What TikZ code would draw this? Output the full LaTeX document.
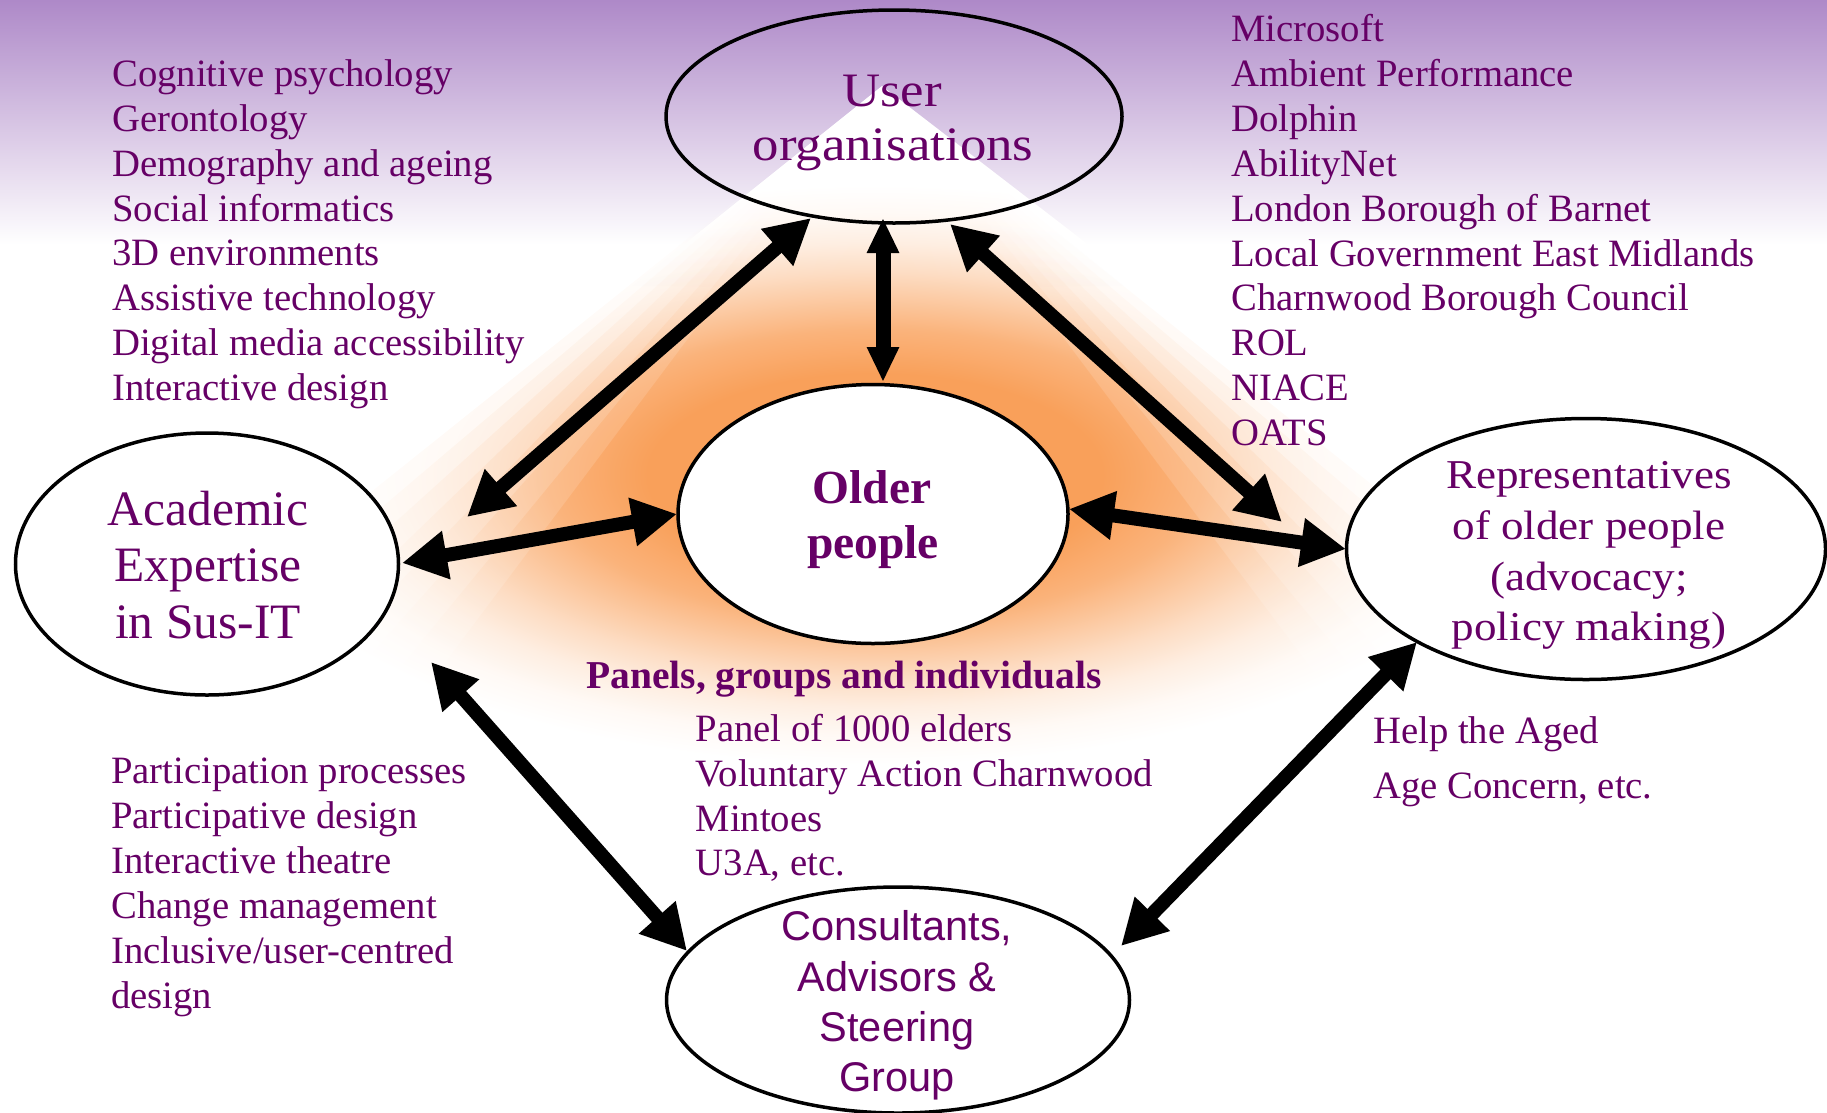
\documentclass[tikz,border=0pt]{standalone}
\usepackage{fontspec}
\setmainfont{Liberation Serif}
\newfontfamily\stretchserif{Liberation Serif}[FakeStretch=1.1]
\newfontfamily\arialfont{Liberation Sans}
\usetikzlibrary{arrows.meta,shapes.geometric}
\definecolor{txtpurple}{RGB}{102,0,102}
\definecolor{toppurple}{RGB}{174,137,200}
\definecolor{glow}{RGB}{249,160,90}
\pgfdeclareradialshading{glowr}{\pgfpoint{0bp}{0bp}}{color(0bp)=(glow); color(8.75bp)=(glow); color(12.5bp)=(glow!80!white); color(15bp)=(glow!58!white); color(17.5bp)=(glow!36!white); color(20bp)=(glow!18!white); color(22.5bp)=(glow!6!white); color(25bp)=(white); color(50bp)=(white)}
\begin{document}
\begin{tikzpicture}[x=1pt,y=-1pt,
  listtxt/.style={font=\fontsize{38.7}{45}\selectfont, text=txtpurple, inner sep=0pt, anchor=base west},
  ttl/.style={text=txtpurple, inner sep=0pt, anchor=base},
  bub/.style={ellipse, draw=black, line width=3.5pt, inner sep=0pt},
  arr/.style={line width=14pt, >={Triangle[length=45pt,width=46pt]}, <->},
  varr/.style={line width=15pt, >={Triangle[length=35pt,width=30pt]}, <->}]
\useasboundingbox (0,0) rectangle (1827,1112);
% background
\shade[top color=toppurple, bottom color=white] (0,0) rectangle (1827,245);
\fill[white] (882,86) -- (632,286) -- (1142,286) -- cycle;
\foreach \k in {1,...,8} {
  \pgfmathsetmacro\l{1.25-(\k-1)*0.5/7}
  \pgfmathsetmacro\o{1/(9-\k)}
  \begin{scope}[opacity=\o]
    \clip (876,88) -- ({876-\l*1000},1088) -- ({876+\l*1000},1088) -- cycle;
    \shade[shading=glowr] (875,475) ellipse [x radius=650, y radius=290];
  \end{scope}
}
% ellipses
\node[bub, minimum width=456pt, minimum height=213pt] (uo) at (894,116.5) {};
\node[bub, fill=white, minimum width=390pt, minimum height=259pt] (op) at (873,514) {};
\node[bub, fill=white, minimum width=383pt, minimum height=262pt] (ae) at (207,564) {};
\node[bub, fill=white, minimum width=479pt, minimum height=261pt] (rp) at (1586,549) {};
\node[bub, fill=white, minimum width=463pt, minimum height=226pt] (cs) at (898,1000) {};
% arrow ends
\coordinate (a1) at (467,517); \coordinate (b1) at (811,218);
\coordinate (a2) at (883,218); \coordinate (b2) at (883,382);
\coordinate (a3) at (950,224); \coordinate (b3) at (1282,522);
\coordinate (a4) at (402,563); \coordinate (b4) at (677,514);
\coordinate (a5) at (1069,509); \coordinate (b5) at (1346,549);
\coordinate (a6) at (431,662); \coordinate (b6) at (687,951);
\coordinate (a7) at (1417,642); \coordinate (b7) at (1121,946);
\draw[arr] (a1) -- (b1);
\draw[varr] (a2) -- (b2);
\draw[arr] (a3) -- (b3);
\draw[arr] (a4) -- (b4);
\draw[arr] (a5) -- (b5);
\draw[arr] (a6) -- (b6);
\draw[arr] (a7) -- (b7);
% titles
\node[ttl, font=\stretchserif\fontsize{48}{53}\selectfont] (uo1) at (892,106.7) {User};
\node[ttl, font=\stretchserif\fontsize{48}{53}\selectfont] (uo2) at (893,160) {organisations};
\node[ttl, font=\bfseries\fontsize{47.5}{55}\selectfont] (op1) at (872,503.3) {Older};
\node[ttl, font=\bfseries\fontsize{47.5}{55}\selectfont] (op2) at (873,558.3) {people};
\node[ttl, font=\fontsize{49.5}{56.5}\selectfont] (ae1) at (208,525) {Academic};
\node[ttl, font=\fontsize{49.5}{56.5}\selectfont] (ae2) at (208,581.7) {Expertise};
\node[ttl, font=\fontsize{49.5}{56.5}\selectfont] (ae3) at (208,638) {in Sus-IT};
\node[ttl, font=\stretchserif\fontsize{41}{50.6}\selectfont] (rp1) at (1589,488.3) {Representatives};
\node[ttl, font=\stretchserif\fontsize{41}{50.6}\selectfont] (rp2) at (1589,539.3) {of older people};
\node[ttl, font=\stretchserif\fontsize{41}{50.6}\selectfont] (rp3) at (1589,590) {(advocacy;};
\node[ttl, font=\stretchserif\fontsize{41}{50.6}\selectfont] (rp4) at (1589,640) {policy making)};
\node[ttl, font=\arialfont\fontsize{41.5}{50.6}\selectfont] (cs1) at (897,940) {Consultants,};
\node[ttl, font=\arialfont\fontsize{41.5}{50.6}\selectfont] (cs2) at (897,991.7) {Advisors \&};
\node[ttl, font=\arialfont\fontsize{41.5}{50.6}\selectfont] (cs3) at (897,1041.7) {Steering};
\node[ttl, font=\arialfont\fontsize{41.5}{50.6}\selectfont] (cs4) at (897,1091.7) {Group};
% lists
\foreach \t [count=\i] in {Cognitive psychology, Gerontology, Demography and ageing, Social informatics, 3D environments, Assistive technology, Digital media accessibility, Interactive design}
  \node[listtxt] (la\i) at (112,{86.7+(\i-1)*44.8}) {\t};
\foreach \t [count=\i] in {Microsoft, Ambient Performance, Dolphin, AbilityNet, London Borough of Barnet, Local Government East Midlands, Charnwood Borough Council, ROL, NIACE, OATS}
  \node[listtxt] (lb\i) at (1231,{41.5+(\i-1)*44.9}) {\t};
\node[ttl, font=\bfseries\fontsize{39.5}{45}\selectfont] (pg) at (844,688) {Panels, groups and individuals};
\foreach \t [count=\i] in {Panel of 1000 elders, Voluntary Action Charnwood, Mintoes, {U3A, etc.}}
  \node[listtxt] (lc\i) at (695.5,{741.6+(\i-1)*44.7}) {\t};
\foreach \t [count=\i] in {Participation processes, Participative design, Interactive theatre, Change management, Inclusive/user-centred, design}
  \node[listtxt] (ld\i) at (111,{783.3+(\i-1)*45}) {\t};
\node[listtxt] (le1) at (1373,743) {Help the Aged};
\node[listtxt] (le2) at (1373,798) {Age Concern, etc.};
\end{tikzpicture}
\end{document}
